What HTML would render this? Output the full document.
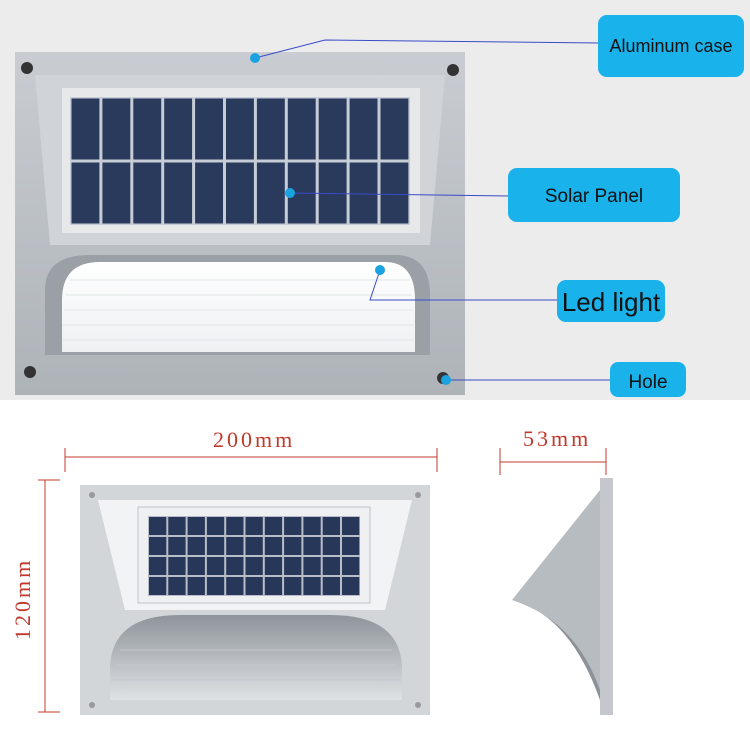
<!DOCTYPE html>
<html><head><meta charset="utf-8"><style>
body{margin:0;width:750px;height:750px;background:#fff;overflow:hidden;font-family:"Liberation Sans",sans-serif}
</style></head><body>
<svg width="750" height="750" viewBox="0 0 750 750" xmlns="http://www.w3.org/2000/svg">
<defs>
<linearGradient id="case" x1="0" y1="0" x2="0" y2="1"><stop offset="0" stop-color="#c9cdd2"/><stop offset="1" stop-color="#aeb3b8"/></linearGradient>
<linearGradient id="led" x1="0" y1="0" x2="0" y2="1"><stop offset="0" stop-color="#ffffff"/><stop offset="1" stop-color="#eef0f2"/></linearGradient>
<linearGradient id="bled" x1="0" y1="0" x2="0" y2="1"><stop offset="0" stop-color="#8e949a"/><stop offset="1" stop-color="#dfe2e5"/></linearGradient>
<pattern id="cells" width="30.9" height="64" patternUnits="userSpaceOnUse" x="70" y="97"><rect width="30.9" height="64" fill="#c7cdd6"/><rect x="1.5" y="1.5" width="27.9" height="61" fill="#2a3a5c"/></pattern>
<pattern id="cells2" width="19.3" height="20" patternUnits="userSpaceOnUse" x="148" y="516"><rect width="19.3" height="20" fill="#b8bec8"/><rect x="1" y="1" width="17.3" height="18" fill="#27375a"/></pattern>
</defs>
<rect x="0" y="0" width="750" height="400" fill="#ececec"/>
<path d="M15 52 H465 V395 H15 Z" fill="url(#case)"/>
<path d="M35 75 H445 L430 245 H50 Z" fill="#d0d3d7"/>
<rect x="62" y="88" width="358" height="145" fill="#e6e8ea"/>
<rect x="70" y="97" width="340" height="128" fill="url(#cells)"/>
<path d="M45 290 Q45 255 90 255 H395 Q430 255 430 295 V355 H45 Z" fill="#9aa0a6"/>
<path d="M62 300 Q62 262 100 262 H385 Q415 262 415 300 V352 H62 Z" fill="url(#led)"/>
<g stroke="#e2e4e7" stroke-width="1"><line x1="70" y1="280" x2="410" y2="280"/><line x1="66" y1="295" x2="412" y2="295"/><line x1="64" y1="310" x2="413" y2="310"/><line x1="63" y1="325" x2="414" y2="325"/><line x1="63" y1="340" x2="414" y2="340"/></g>
<circle cx="27" cy="68" r="6" fill="#333"/><circle cx="453" cy="70" r="6" fill="#333"/>
<circle cx="30" cy="372" r="6" fill="#333"/><circle cx="443" cy="378" r="6" fill="#333"/>
<g stroke="#3a4bc8" stroke-width="1" fill="none">
<polyline points="255,58 325,40 600,43"/>
<line x1="290" y1="193" x2="510" y2="196"/>
<polyline points="380,270 370,300 560,300"/>
<line x1="446" y1="380" x2="612" y2="380"/>
</g>
<g fill="#1aa3e0"><circle cx="255" cy="58" r="5"/><circle cx="290" cy="193" r="5"/><circle cx="380" cy="270" r="5"/><circle cx="446" cy="380" r="5"/></g>
<g fill="#1ab2ea">
<rect x="598" y="15" width="146" height="62" rx="9"/>
<rect x="508" y="168" width="172" height="54" rx="9"/>
<rect x="557" y="280" width="108" height="42" rx="9"/>
<rect x="610" y="362" width="76" height="35" rx="8"/>
</g>
<g fill="#111" text-anchor="middle">
<text x="671" y="52" font-size="18">Aluminum case</text>
<text x="594" y="202" font-size="19">Solar Panel</text>
<text x="611" y="311" font-size="26">Led light</text>
<text x="648" y="388" font-size="19">Hole</text>
</g>
<g stroke="#c0392b" stroke-width="1">
<line x1="65" y1="448" x2="65" y2="472"/><line x1="437" y1="448" x2="437" y2="472"/><line x1="65" y1="457" x2="437" y2="457"/>
<line x1="38" y1="480" x2="60" y2="480"/><line x1="38" y1="712" x2="60" y2="712"/><line x1="45" y1="480" x2="45" y2="712"/>
<line x1="500" y1="448" x2="500" y2="475"/><line x1="606" y1="448" x2="606" y2="475"/><line x1="500" y1="462" x2="606" y2="462"/>
</g>
<g fill="#c0392b" font-family="Liberation Serif,serif" font-size="22" letter-spacing="3">
<text x="213" y="447">200mm</text>
<text x="523" y="446">53mm</text>
<text transform="translate(30 640) rotate(-90)">120mm</text>
</g>
<rect x="80" y="485" width="350" height="230" fill="#d3d6d9"/>
<path d="M98 500 H412 L385 610 H125 Z" fill="#f2f3f4"/>
<rect x="138" y="507" width="232" height="96" fill="#eef0f1" stroke="#bfc4c9"/>
<rect x="148" y="516" width="212" height="80" fill="url(#cells2)"/>
<path d="M110 700 V670 Q110 615 180 615 H330 Q402 615 402 670 V700 Z" fill="url(#bled)"/>
<g stroke="#c5c9cd"><line x1="120" y1="650" x2="392" y2="650"/><line x1="115" y1="665" x2="397" y2="665"/><line x1="112" y1="680" x2="400" y2="680"/></g>
<circle cx="92" cy="495" r="3" fill="#999"/><circle cx="418" cy="495" r="3" fill="#999"/><circle cx="92" cy="705" r="3" fill="#999"/><circle cx="418" cy="705" r="3" fill="#999"/>
<rect x="600" y="478" width="13" height="237" fill="#c4c8cc"/>
<path d="M600 490 L512 600 Q570 615 600 700 Z" fill="#b7bcc1"/>
<path d="M512 600 Q570 615 600 700 L600 690 Q575 620 512 600 Z" fill="#8c9298"/>
</svg>
</body></html>
